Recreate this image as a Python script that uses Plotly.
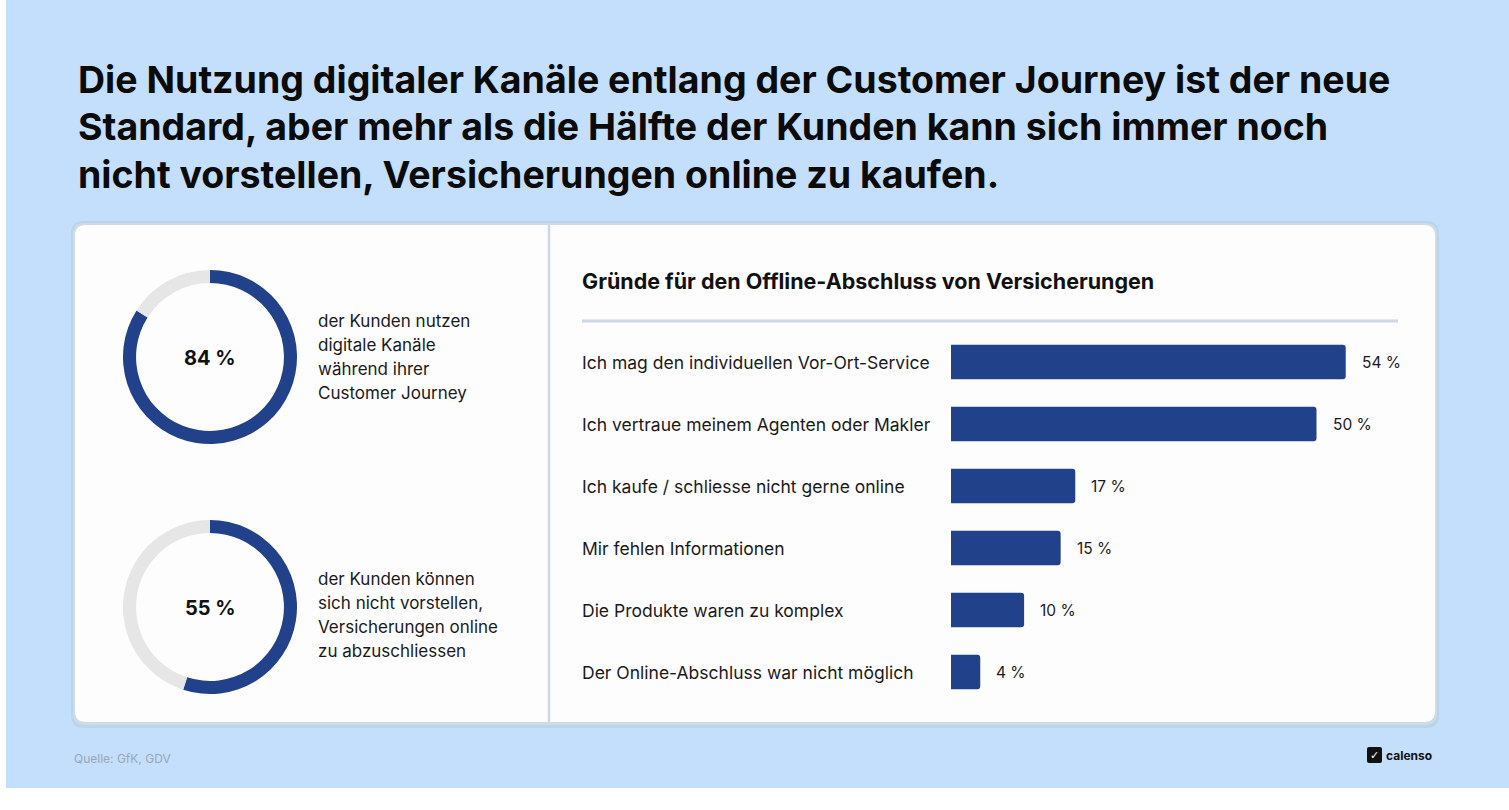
import plotly.graph_objects as go

W, H = 1509, 810

title_lines = [
    "Die Nutzung digitaler Kanäle entlang der Customer Journey ist der neue",
    "Standard, aber mehr als die Hälfte der Kunden kann sich immer noch",
    "nicht vorstellen, Versicherungen online zu kaufen.",
]

donut_values = [84, 55]
donut_texts = [
    ["der Kunden nutzen", "digitale Kanäle", "während ihrer", "Customer Journey"],
    ["der Kunden können", "sich nicht vorstellen,", "Versicherungen online", "zu abzuschliessen"],
]

bar_title = "Gründe für den Offline-Abschluss von Versicherungen"
reasons = [
    "Ich mag den individuellen Vor-Ort-Service",
    "Ich vertraue meinem Agenten oder Makler",
    "Ich kaufe / schliesse nicht gerne online",
    "Mir fehlen Informationen",
    "Die Produkte waren zu komplex",
    "Der Online-Abschluss war nicht möglich",
]
shares = [54, 50, 17, 15, 10, 4]

source = "Quelle: GfK, GDV"

BLUE = "#21428a"
GREY = "#e6e6e6"
BG = "#c4dffb"
FONT = "Inter"


def px(x):
    return x / W


def py(y):
    return 1 - y / H


def rounded_rect(x0, y0, x1, y1, r):
    # pixel coords -> svg path in paper coords
    pts = [
        ("M", x0 + r, y0), ("L", x1 - r, y0), ("Q", x1, y0, x1, y0 + r),
        ("L", x1, y1 - r), ("Q", x1, y1, x1 - r, y1), ("L", x0 + r, y1),
        ("Q", x0, y1, x0, y1 - r), ("L", x0, y0 + r), ("Q", x0, y0, x0 + r, y0),
    ]
    out = []
    for p in pts:
        cmd = p[0]
        coords = p[1:]
        s = []
        for i in range(0, len(coords), 2):
            s.append(f"{px(coords[i]):.5f},{py(coords[i + 1]):.5f}")
        out.append(cmd + " ".join(s))
    return " ".join(out) + " Z"


fig = go.Figure()

# donuts
centers = [357, 607]
text_tops = [321, 579]
R = 87
for val, cy in zip(donut_values, centers):
    fig.add_trace(go.Pie(
        values=[val, 100 - val],
        hole=0.85,
        sort=False,
        direction="clockwise",
        rotation=0,
        marker=dict(colors=[BLUE, GREY], line=dict(width=0)),
        textinfo="none",
        hoverinfo="skip",
        showlegend=False,
        domain=dict(x=[px(210 - R), px(210 + R)], y=[py(cy + R), py(cy - R)]),
    ))

# bars
fig.add_trace(go.Bar(
    x=shares,
    y=reasons,
    orientation="h",
    marker=dict(color=BLUE, cornerradius=3, line=dict(width=0)),
    width=0.56,
    hoverinfo="skip",
    showlegend=False,
))

shapes = [
    dict(type="rect", xref="paper", yref="paper", x0=px(6), x1=1, y0=py(788), y1=1,
         fillcolor=BG, line=dict(width=0), layer="below"),
    dict(type="path", xref="paper", yref="paper", path=rounded_rect(71, 221, 1439, 728, 13),
         fillcolor="#bcd3ec", line=dict(width=0), layer="below"),
    dict(type="path", xref="paper", yref="paper", path=rounded_rect(73, 223, 1437, 725, 12),
         fillcolor="#cfdbe9", line=dict(width=0), layer="below"),
    dict(type="path", xref="paper", yref="paper", path=rounded_rect(75, 225, 1435, 722, 11),
         fillcolor="#fdfdfe", line=dict(width=0), layer="below"),
    dict(type="line", xref="paper", yref="paper", x0=px(549), x1=px(549), y0=py(225), y1=py(722),
         line=dict(color="#cdd8e6", width=2.5)),
    dict(type="line", xref="paper", yref="paper", x0=px(582), x1=px(1398), y0=py(321), y1=py(321),
         line=dict(color="#cdd8e6", width=3)),
    # logo box
    dict(type="path", xref="paper", yref="paper", path=rounded_rect(1367, 747, 1382, 763, 2),
         fillcolor="#111111", line=dict(width=0)),
]

annotations = []
for i, line in enumerate(title_lines):
    annotations.append(dict(text=line, x=px(76), y=py(79 + i * 48), xref="paper", yref="paper",
                            xanchor="left", yanchor="middle", showarrow=False,
                            font=dict(family=FONT, size=37.5, color="#0b0b0b", weight=700)))

for val, cy, top, lines in zip(donut_values, centers, text_tops, donut_texts):
    annotations.append(dict(text=f"{val} %", x=px(210), y=py(cy + 1), xref="paper", yref="paper",
                            xanchor="center", yanchor="middle", showarrow=False,
                            font=dict(family=FONT, size=20, color="#111111", weight=700)))
    for j, line in enumerate(lines):
        annotations.append(dict(text=line, x=px(316), y=py(top + j * 24), xref="paper", yref="paper",
                                xanchor="left", yanchor="middle", showarrow=False,
                                font=dict(family=FONT, size=17, color="#1a1a1a")))

annotations.append(dict(text=bar_title, x=px(580), y=py(281), xref="paper", yref="paper",
                        xanchor="left", yanchor="middle", showarrow=False,
                        font=dict(family=FONT, size=21.5, color="#111111", weight=700)))

for r, s in zip(reasons, shares):
    annotations.append(dict(text=r, x=px(580), y=r, xref="paper", yref="y",
                            xanchor="left", yanchor="middle", showarrow=False,
                            font=dict(family=FONT, size=17.5, color="#1a1a1a")))
    annotations.append(dict(text=f"{s} %", x=s, y=r, xref="x", yref="y", xshift=14,
                            xanchor="left", yanchor="middle", showarrow=False,
                            font=dict(family=FONT, size=15.5, color="#1a1a1a")))

annotations.append(dict(text=source, x=px(72), y=py(758), xref="paper", yref="paper",
                        xanchor="left", yanchor="middle", showarrow=False,
                        font=dict(family=FONT, size=12, color="#9aa6b8")))
annotations.append(dict(text="✓", x=px(1374.5), y=py(755), xref="paper", yref="paper",
                        xanchor="center", yanchor="middle", showarrow=False,
                        font=dict(family="DejaVu Sans", size=11, color="#ffffff", weight=700)))
annotations.append(dict(text="calenso", x=px(1384), y=py(755), xref="paper", yref="paper",
                        xanchor="left", yanchor="middle", showarrow=False,
                        font=dict(family=FONT, size=12, color="#111111", weight=700)))

fig.update_layout(
    width=W, height=H,
    margin=dict(l=0, r=0, t=0, b=0),
    paper_bgcolor="#ffffff",
    plot_bgcolor="rgba(0,0,0,0)",
    shapes=shapes,
    annotations=annotations,
    xaxis=dict(domain=[px(951), px(951 + 60 * 7.31)], range=[0, 60], visible=False, fixedrange=True),
    yaxis=dict(domain=[py(703), py(331)], range=[5.5, -0.5], visible=False, fixedrange=True),
    bargap=0.4,
)

fig.write_html("out.html", config={"displayModeBar": False},
               post_script="document.body.style.margin='0px';")
